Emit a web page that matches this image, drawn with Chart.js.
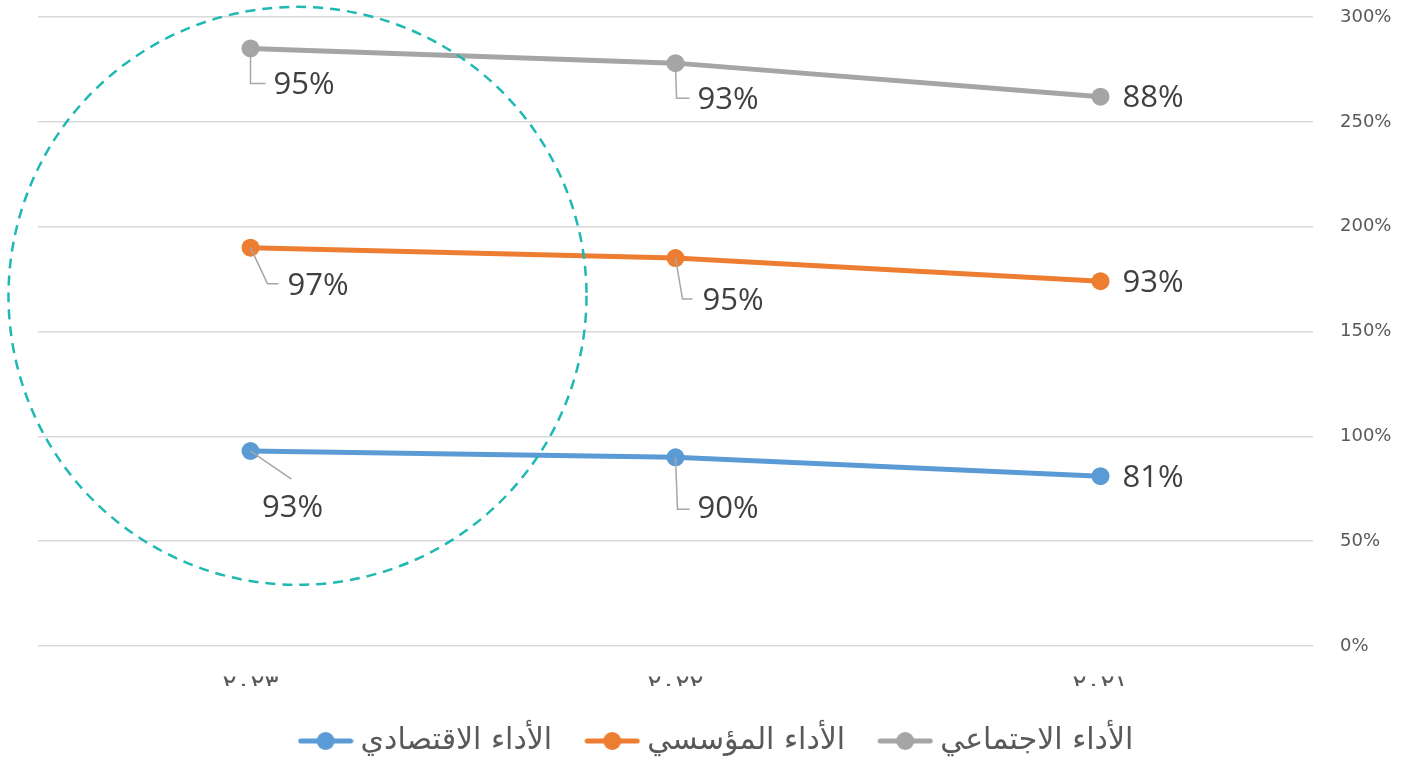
<!DOCTYPE html>
<html>
<head>
<meta charset="utf-8">
<script src="https://cdn.jsdelivr.net/npm/chart.js@4"></script>
<style>
  body { margin: 0; background: #fff; }
  #wrap { width: 1401px; height: 766px; }
</style>
</head>
<body>
<div id="wrap"><canvas id="myChart" width="1401" height="766"></canvas></div>
<script>
// categories (axis is reversed, so 2023 ends up on the left)
var years = ['٢٠٢١', '٢٠٢٢', '٢٠٢٣'];
var seriesNames = ['الأداء الاقتصادي', 'الأداء المؤسسي', 'الأداء الاجتماعي'];
var economic = [81, 90, 93];
var institutional = [93, 95, 97];
var social = [88, 93, 95];
var yTicks = [0, 50, 100, 150, 200, 250, 300];

var colors = ['#5B9BD5', '#ED7D31', '#A5A5A5'];

// legend marker: short line with a dot in the middle
function legendMarker(color) {
  var c = document.createElement('canvas');
  c.width = 56; c.height = 20;
  var g = c.getContext('2d');
  g.strokeStyle = color; g.lineWidth = 5; g.lineCap = 'round';
  g.beginPath(); g.moveTo(3, 10); g.lineTo(53, 10); g.stroke();
  g.fillStyle = color;
  g.beginPath(); g.arc(28, 10, 9, 0, Math.PI * 2); g.fill();
  return c;
}

// label placement per dataset / point index (2021, 2022, 2023)
// dx,dy: label left edge & middle relative to the point; leader: elbow points
var labelPlaces = [
  [ {dx: 22, dy: 2}, {dx: 22, dy: 52, leader: [[2, 52], [14, 52]]}, {dx: 42, dy: 57, center: true, leader: [[41, 28]]} ],
  [ {dx: 22, dy: 2}, {dx: 27, dy: 43, leader: [[7, 41], [17, 41]]}, {dx: 37, dy: 39, leader: [[17, 36], [28, 36]]} ],
  [ {dx: 22, dy: 1}, {dx: 22, dy: 37, leader: [[1, 35], [14, 35]]}, {dx: 23, dy: 37, leader: [[0, 35], [15, 35]]} ]
];

var rawData = [economic, institutional, social];

var labelPlugin = {
  id: 'pointLabels',
  afterDatasetsDraw: function(chart) {
    var ctx = chart.ctx;
    ctx.save();
    ctx.font = '31px "Open Sans"';
    ctx.textBaseline = 'middle';
    chart.data.datasets.forEach(function(ds, di) {
      var meta = chart.getDatasetMeta(di);
      meta.data.forEach(function(pt, i) {
        var p = labelPlaces[di][i];
        if (p.leader) {
          ctx.strokeStyle = '#A6A6A6';
          ctx.lineWidth = 1.5;
          ctx.beginPath();
          ctx.moveTo(pt.x, pt.y);
          p.leader.forEach(function(q) { ctx.lineTo(pt.x + q[0], pt.y + q[1]); });
          ctx.stroke();
        }
        ctx.fillStyle = '#404040';
        ctx.textAlign = p.center ? 'center' : 'left';
        ctx.fillText(rawData[di][i] + '%', pt.x + p.dx, pt.y + p.dy);
      });
    });
    ctx.restore();
  }
};

// dashed highlight circle around the 2023 points
var circlePlugin = {
  id: 'circleMark',
  afterDraw: function(chart) {
    var ctx = chart.ctx;
    var x = chart.scales.x.getPixelForValue(2) + 47;
    var y = chart.scales.y.getPixelForValue(167);
    ctx.save();
    ctx.strokeStyle = '#1FB8B2';
    ctx.lineWidth = 2.5;
    ctx.setLineDash([10, 7]);
    ctx.beginPath();
    ctx.arc(x, y, 289, 0, Math.PI * 2);
    ctx.stroke();
    ctx.restore();
  }
};

var datasets = rawData.map(function(vals, i) {
  return {
    label: seriesNames[i],
    data: vals,
    borderColor: colors[i],
    backgroundColor: colors[i],
    borderWidth: 5,
    pointRadius: 9,
    pointHoverRadius: 9,
    pointBackgroundColor: colors[i],
    pointBorderWidth: 0,
    fill: false,
    tension: 0
  };
});

var ctx = document.getElementById('myChart');
var myChart = new Chart(ctx, {
  type: 'line',
  data: { labels: years, datasets: datasets },
  options: {
    responsive: false,
    animation: false,
    events: [],
    layout: { padding: { left: 38, top: 17, right: 0, bottom: 0 } },
    scales: {
      x: {
        reverse: true,
        offset: true,
        grid: { display: false },
        border: { display: false },
        ticks: { padding: 17, color: '#595959', font: { family: '"DejaVu Serif", "DejaVu Sans", serif', size: 26 } },
        afterFit: function(s) { s.height = 40; }
      },
      y: {
        position: 'right',
        stacked: true,
        min: 0,
        max: 300,
        afterBuildTicks: function(s) { s.ticks = yTicks.map(function(v) { return {value: v}; }); },
        grid: { color: '#D9D9D9', lineWidth: 1.5, drawTicks: true, tickLength: 27, tickColor: 'rgba(0,0,0,0)' },
        border: { display: false },
        ticks: {
          padding: 0,
          color: '#595959',
          font: { family: '"DejaVu Sans"', size: 18 },
          callback: function(v) { return v + '%'; }
        },
        afterFit: function(s) { s.width = 88; }
      }
    },
    plugins: {
      tooltip: { enabled: false },
      legend: {
        position: 'bottom',
        labels: {
          usePointStyle: true,
          pointStyleWidth: 40,
          padding: 40,
          color: '#595959',
          font: { family: '"DejaVu Serif", "DejaVu Sans", serif', size: 30 },
          generateLabels: function(chart) {
            return chart.data.datasets.map(function(ds, i) {
              return {
                text: ds.label,
                fillStyle: colors[i],
                strokeStyle: colors[i],
                lineWidth: 0,
                pointStyle: legendMarker(colors[i]),
                fontColor: '#595959',
                datasetIndex: i
              };
            });
          }
        }
      }
    }
  },
  plugins: [labelPlugin, circlePlugin]
});
</script>
</body>
</html>
